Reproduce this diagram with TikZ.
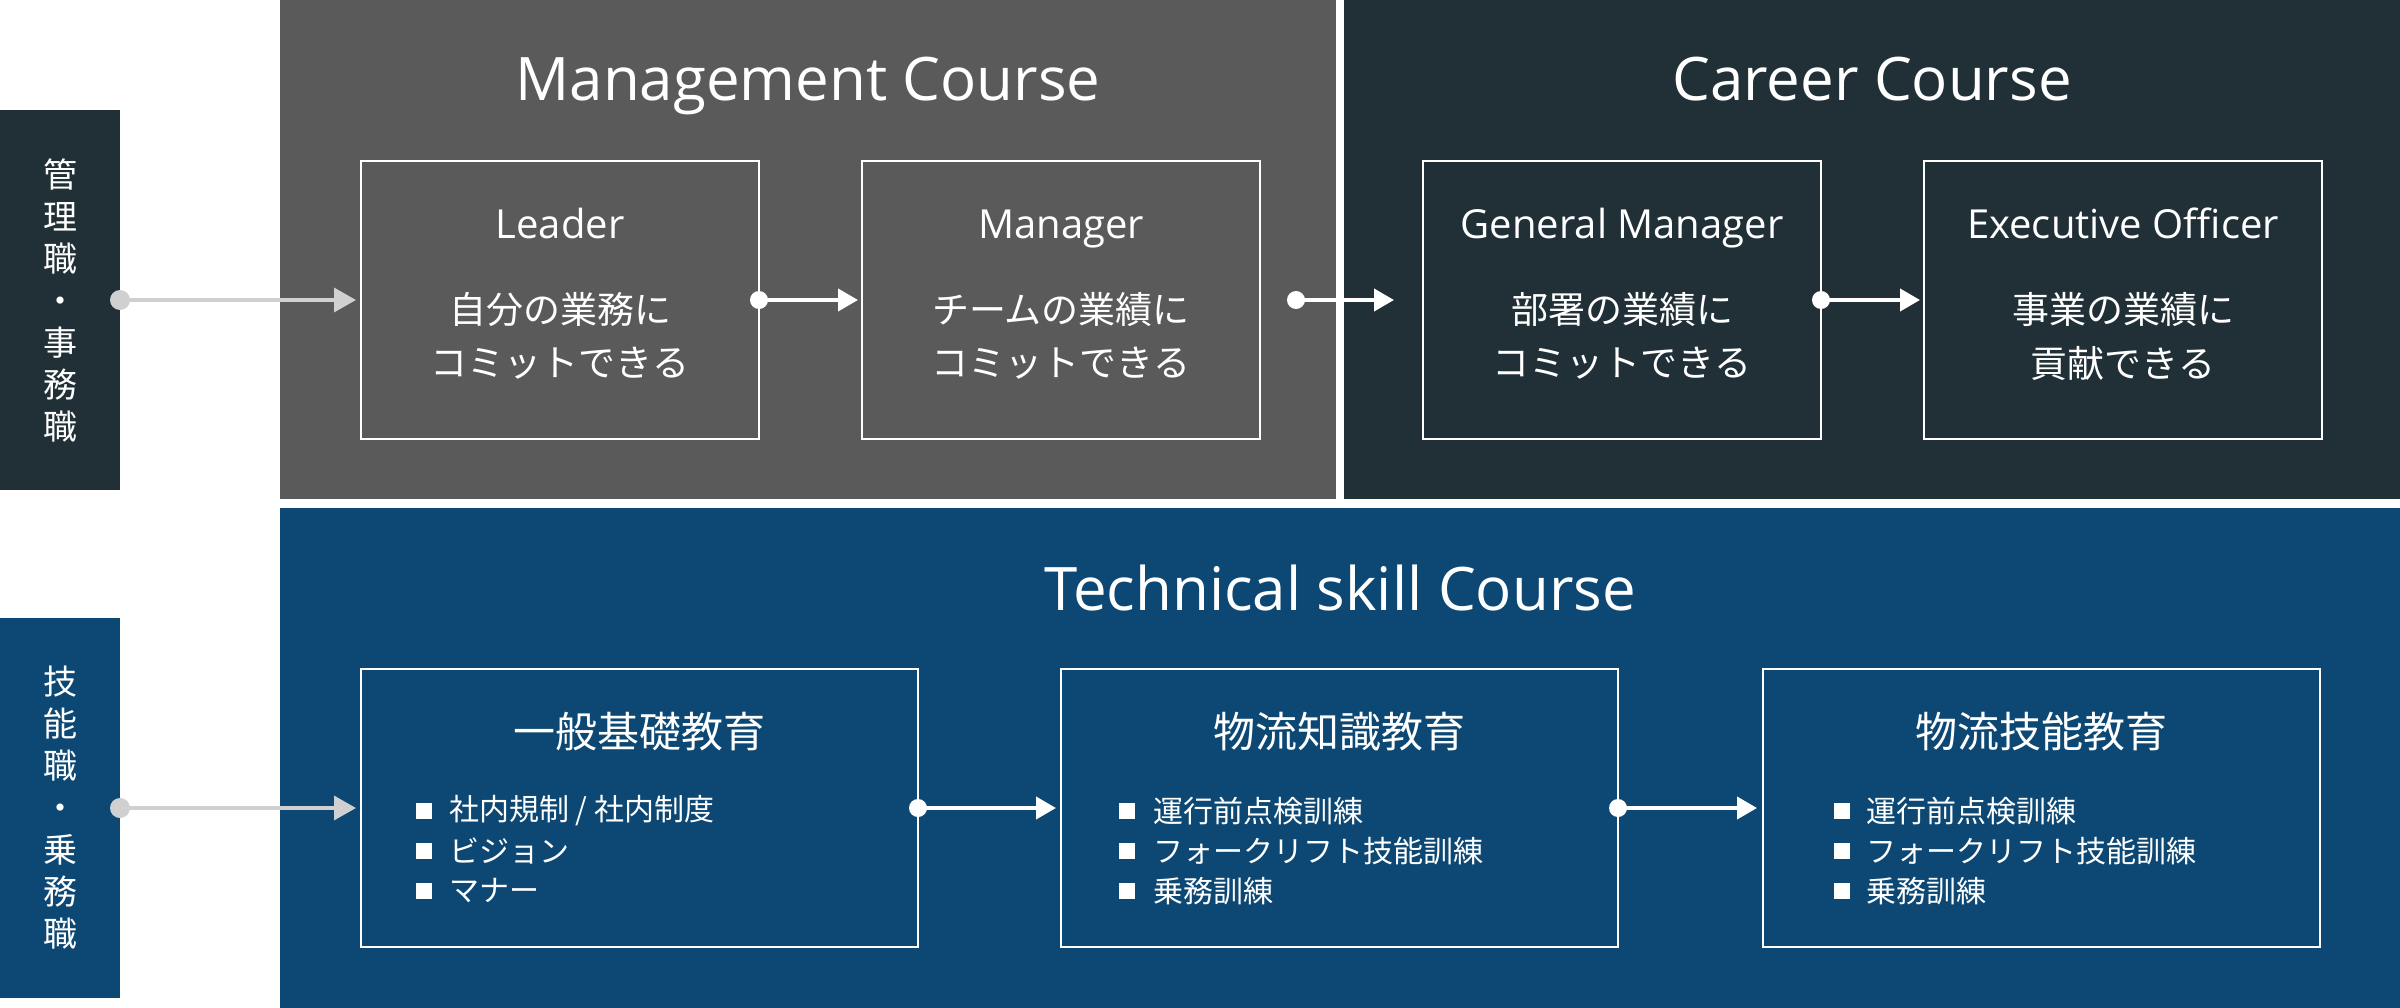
\documentclass[tikz,border=0pt]{standalone}
\usepackage{fontspec}
\setmainfont{Open Sans}
\newfontfamily\jp{Noto Sans CJK JP}
\usetikzlibrary{arrows.meta}
\definecolor{mgmtgray}{HTML}{5A5A5A}
\definecolor{careerdark}{HTML}{213036}
\definecolor{techblue}{HTML}{0C4873}
\definecolor{linegray}{HTML}{D0D0D0}
\begin{document}
\begin{tikzpicture}[x=1pt,y=-1pt,
  panel/.style={inner sep=0pt, outer sep=0pt, anchor=north west},
  sidelabel/.style={inner sep=0pt, outer sep=0pt, anchor=north west, minimum width=120pt, minimum height=380pt, text=white, align=center, font=\jp\fontsize{34pt}{42pt}\selectfont},
  rolebox/.style={draw=white, line width=2.5pt, inner sep=0pt, outer sep=0pt, anchor=north west, minimum width=398pt, minimum height=278pt},
  edubox/.style={draw=white, line width=2.5pt, inner sep=0pt, outer sep=0pt, anchor=north west, minimum width=557pt, minimum height=278pt},
  coursetitle/.style={text=white, inner sep=0pt, anchor=base, font=\fontsize{60pt}{72pt}\selectfont},
  rolename/.style={text=white, inner sep=0pt, anchor=base, font=\fontsize{40pt}{48pt}\selectfont},
  roletext/.style={text=white, inner sep=0pt, anchor=center, font=\jp\fontsize{37pt}{44pt}\selectfont},
  edutitle/.style={text=white, inner sep=0pt, anchor=center, font=\jp\fontsize{42pt}{50pt}\selectfont},
  item/.style={text=white, inner sep=0pt, anchor=west, font=\jp\fontsize{30pt}{36pt}\selectfont},
  bullet/.style={fill=white, inner sep=0pt, minimum size=16pt},
  grayarrow/.style={draw=linegray, line width=3.5pt, -{Triangle[length=22pt,width=24pt]}, shorten >=5pt},
  whitearrow/.style={draw=white, line width=4pt, -{Triangle[length=20pt,width=22pt]}, shorten >=4pt}
]
\useasboundingbox (0,0) rectangle (2400,1008);
\fill[white] (0,0) rectangle (2400,1008);

% panels
\node[panel, fill=mgmtgray, minimum width=1056pt, minimum height=499pt] (mgmt) at (280,0) {};
\node[panel, fill=careerdark, minimum width=1056pt, minimum height=499pt] (career) at (1344,0) {};
\node[panel, fill=techblue, minimum width=2120pt, minimum height=500pt] (tech) at (280,508) {};

% side labels
\node[sidelabel, fill=careerdark] (lab1) at (0,110) {管\\理\\職\\・\\事\\務\\職};
\node[sidelabel, fill=techblue] (lab2) at (0,618) {技\\能\\職\\・\\乗\\務\\職};

% course titles
\node[coursetitle] (mgmtT) at (808,101) {Management Course};
\node[coursetitle] (careerT) at (1872,101) {Career Course};
\node[coursetitle] (techT) at (1340,610) {Technical skill Course};

% role boxes
\node[rolebox] (leader) at (361,161) {};
\node[rolebox] (manager) at (862,161) {};
\node[rolebox] (gm) at (1423,161) {};
\node[rolebox] (exec) at (1924,161) {};

\node[rolename] (leaderN) at (560,239) {Leader};
\node[rolename] (managerN) at (1061,239) {Manager};
\node[rolename] (gmN) at (1622,239) {General Manager};
\node[rolename] (execN) at (2123,239) {Executive Officer};

\node[roletext] (leaderA) at (560,309) {自分の業務に};
\node[roletext] (leaderB) at (560,363) {コミットできる};
\node[roletext] (managerA) at (1061,309) {チームの業績に};
\node[roletext] (managerB) at (1061,363) {コミットできる};
\node[roletext] (gmA) at (1622,309) {部署の業績に};
\node[roletext] (gmB) at (1622,363) {コミットできる};
\node[roletext] (execA) at (2123,309) {事業の業績に};
\node[roletext] (execB) at (2123,363) {貢献できる};

% education boxes
\node[edubox] (edu1) at (361,669) {};
\node[edubox] (edu2) at (1061,669) {};
\node[edubox] (edu3) at (1763,669) {};

\node[edutitle] (edu1T) at (639.5,732) {一般基礎教育};
\node[edutitle] (edu2T) at (1339.5,732) {物流知識教育};
\node[edutitle] (edu3T) at (2041.5,732) {物流技能教育};

\node[bullet] (b11) at (424,811) {};
\node[bullet] (b12) at (424,851) {};
\node[bullet] (b13) at (424,891) {};
\node[item] (i11) at (449,811) {社内規制 / 社内制度};
\node[item] (i12) at (449,851) {ビジョン};
\node[item] (i13) at (449,891) {マナー};

\node[bullet] (b21) at (1127,811) {};
\node[bullet] (b22) at (1127,851) {};
\node[bullet] (b23) at (1127,891) {};
\node[item] (i21) at (1153,811) {運行前点検訓練};
\node[item] (i22) at (1153,851) {フォークリフト技能訓練};
\node[item] (i23) at (1153,891) {乗務訓練};

\node[bullet] (b31) at (1842,811) {};
\node[bullet] (b32) at (1842,851) {};
\node[bullet] (b33) at (1842,891) {};
\node[item] (i31) at (1866,811) {運行前点検訓練};
\node[item] (i32) at (1866,851) {フォークリフト技能訓練};
\node[item] (i33) at (1866,891) {乗務訓練};

% connectors
\draw[grayarrow] (lab1.east) -- (leader.west);
\fill[linegray] (lab1.east) circle (10pt);
\draw[grayarrow] (lab2.east) -- (edu1.west);
\fill[linegray] (lab2.east) circle (10pt);

\coordinate (mgS) at (1296,300);
\coordinate (mgE) at (1394,300);

\draw[whitearrow] (leader.east) -- (manager.west);
\fill[white] (leader.east) circle (9pt);
\draw[whitearrow, shorten >=0pt] (mgS) -- (mgE);
\fill[white] (mgS) circle (9pt);
\draw[whitearrow] (gm.east) -- (exec.west);
\fill[white] (gm.east) circle (9pt);

\draw[whitearrow, shorten >=5pt] (edu1.east) -- (edu2.west);
\fill[white] (edu1.east) circle (9pt);
\draw[whitearrow, shorten >=6pt] (edu2.east) -- (edu3.west);
\fill[white] (edu2.east) circle (9pt);
\end{tikzpicture}
\end{document}
